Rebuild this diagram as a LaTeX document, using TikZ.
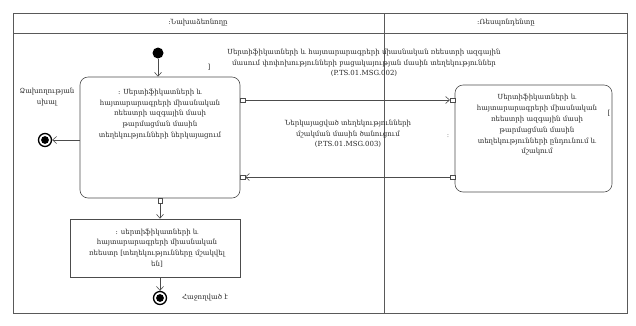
\documentclass[tikz,border=0pt]{standalone}
\usepackage{fontspec}
\setmainfont{DejaVu Serif}
\usetikzlibrary{arrows.meta}
\begin{document}
\begin{tikzpicture}[x=1pt,y=-1pt,
  every node/.style={font=\fontsize{7}{10.8}\selectfont, inner sep=0pt, text=black!85},
  frame/.style={draw=black!65, line width=0.6pt},
  obj/.style={draw=black!70, line width=0.6pt},
  pinbox/.style={draw=black!70, fill=white, minimum size=4.5pt, inner sep=0pt, line width=0.5pt},
  flow/.style={draw=black!70, line width=0.6pt, -{Straight Barb[length=4pt,width=7pt]}},
  finalnode/.style={circle, draw=black, line width=1.3pt, minimum size=13pt, fill=white},
  txt/.style={align=center}
]
\useasboundingbox (0,0) rectangle (636,325);
% swimlane frame
\draw[frame] (13,13) rectangle (627,313);
\draw[frame] (13,33) -- (627,33);
\draw[frame] (384,13) -- (384,313);
\node (lane1) at (198,23) {:Նախաձեռնողը};
\node (lane2) at (506,23) {:Ռեսպոնդենտը};

% initial node
\node[circle, fill=black, minimum size=11pt] (init) at (158,53) {};

% left activity
\node[draw=black!70, line width=0.6pt, rounded corners=8pt, minimum width=160pt, minimum height=121pt] (lbox) at (160,137.5) {};
\node[txt] (ltext) at (160,114) {: Սերտիֆիկատների և\\հայտարարագրերի միասնական\\ռեեստրի ազգային մասի\\թարմացման մասին\\տեղեկությունների ներկայացում};

% right activity
\node[draw=black!70, line width=0.6pt, rounded corners=8pt, minimum width=157pt, minimum height=107pt] (rbox) at (533.5,138.5) {};
\node[txt] (rtext) at (537,125) {Սերտիֆիկատների և\\հայտարարագրերի միասնական\\ռեեստրի ազգային մասի\\թարմացման մասին\\տեղեկությունների ընդունում և\\մշակում};

% bottom object/state box
\node[obj, minimum width=170pt, minimum height=58pt] (bbox) at (155,248) {};
\node[txt] (btext) at (157,248) {: սերտիֆիկատների և\\հայտարարագրերի միասնական\\ռեեստր [տեղեկությունները մշակվել\\են]};

% final nodes
\node[finalnode] (fleft) at (45,140) {};
\fill (fleft) circle (3.9pt);
\node[finalnode] (fbot) at (160,298) {};
\fill (fbot) circle (3.9pt);

% labels of final nodes
\node[txt] (errlbl) at (47,97) {Ձախողության\\սխալ};
\node (oklbl) at (205,298) {Հաջողված է};

% pins
\node[pinbox] (p1) at (242.5,100) {};
\node[pinbox] (p2) at (452.5,100) {};
\node[pinbox] (p3) at (452.5,177) {};
\node[pinbox] (p4) at (242.5,177) {};
\node[pinbox] (p5) at (160,200.5) {};

% connectors
\draw[flow] (init) -- (init |- lbox.north);
\draw[flow] (p1) -- (p2);
\draw[flow] (p3) -- (p4);
\draw[flow] (lbox.west |- fleft) -- (fleft);
\draw[flow] (p5) -- (p5 |- bbox.north);
\draw[flow] (fbot |- bbox.south) -- (fbot);

% message labels
\node[txt] (msg1) at (364,63) {Սերտիֆիկատների և հայտարարագրերի միասնական ռեեստրի ազգային\\մասում փոփոխությունների բացակայության մասին տեղեկություններ\\(P.TS.01.MSG.002)};
\node[txt] (msg2) at (348,134) {Ներկայացված տեղեկությունների\\մշակման մասին ծանուցում\\(P.TS.01.MSG.003)};

% stray marks
\node (m1) at (209,67) {]};
\node (m2) at (609,113) {[};
\node[text=black!50] (m3) at (448,136) {:};
\end{tikzpicture}
\end{document}
